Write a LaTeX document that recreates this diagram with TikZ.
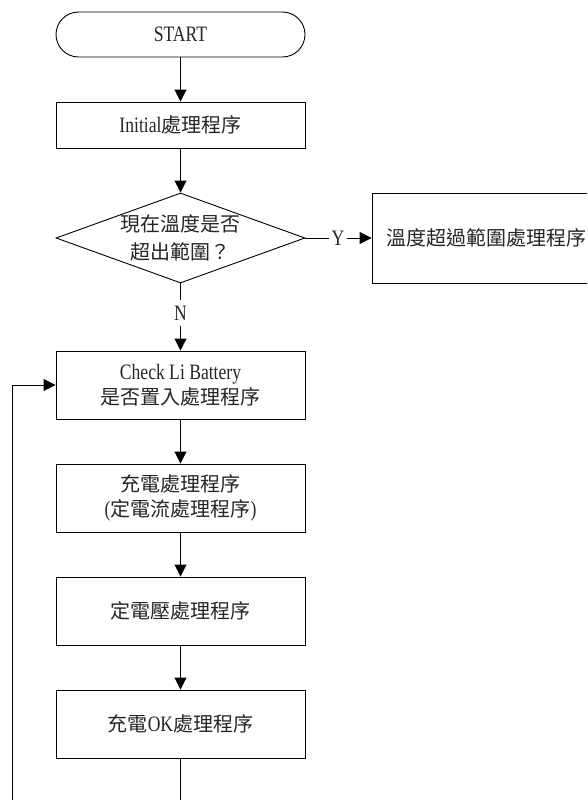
\documentclass[tikz,border=0pt]{standalone}
\usepackage{fontspec}
\setmainfont{Liberation Serif}[FakeStretch=0.8]
\newfontfamily\cjf{Noto Sans CJK TC}
\newcommand\zhtxt[1]{{\cjf\fontsize{20}{25}\selectfont #1}}
\usetikzlibrary{shapes.geometric,arrows.meta}
\begin{document}
\begin{tikzpicture}[x=1pt,y=-1pt,
  line width=0.9pt,
  every node/.style={font=\fontsize{22}{25}\selectfont, text=black!85},
  procbox/.style={draw, minimum width=249pt, minimum height=68pt, inner sep=0pt, align=center},
  arr/.style={-{Triangle[length=12pt,width=12pt]}}
]
\clip (0,0) rectangle (587,800);
\fill[white] (0,0) rectangle (587,800);

\node[draw, rounded corners=22.5pt, minimum width=249pt, minimum height=45pt, inner sep=0pt] (start) at (180.5,34.5) {START};
\node[procbox, minimum height=46pt] (init) at (180.5,125) {Initial\zhtxt{處理程序}};
\node[draw, shape=diamond, aspect=2.77, minimum width=249pt, minimum height=90pt, inner sep=0pt, align=center] (dia) at (180.5,238) {\zhtxt{現在溫度是否}\\[3pt]\zhtxt{超出範圍？}};
\node[procbox, minimum width=228pt, minimum height=90pt] (over) at (486,238) {\zhtxt{溫度超過範圍處理程序}};
\node[procbox] (check) at (180.5,385) {Check Li Battery\\\zhtxt{是否置入處理程序}};
\node[procbox] (charge) at (180.5,498) {\zhtxt{充電處理程序}\\(\zhtxt{定電流處理程序})};
\node[procbox] (cv) at (180.5,611) {\zhtxt{定電壓處理程序}};
\node[procbox] (ok) at (180.5,724) {\zhtxt{充電}OK\zhtxt{處理程序}};

\node[inner xsep=2pt, inner ysep=0pt] (ylab) at (338,238) {Y};
\node[inner xsep=0pt, inner ysep=5pt] (nlab) at (180.5,313) {N};

\coordinate (okend) at (180.5,802);
\coordinate (loopbot) at (12,802);
\coordinate (loopturn) at (12,385);

\draw[arr] (start) -- (init);
\draw[arr] (init) -- (dia);
\draw (dia.east) -- (ylab.west);
\draw[arr] (ylab.east) -- (over.west);
\draw (dia.south) -- (nlab.north);
\draw[arr] (nlab.south) -- (check.north);
\draw[arr] (check) -- (charge);
\draw[arr] (charge) -- (cv);
\draw[arr] (cv) -- (ok);
\draw (ok.south) -- (okend);
\draw[arr] (loopbot) -- (loopturn) -- (check.west);
\end{tikzpicture}
\end{document}
